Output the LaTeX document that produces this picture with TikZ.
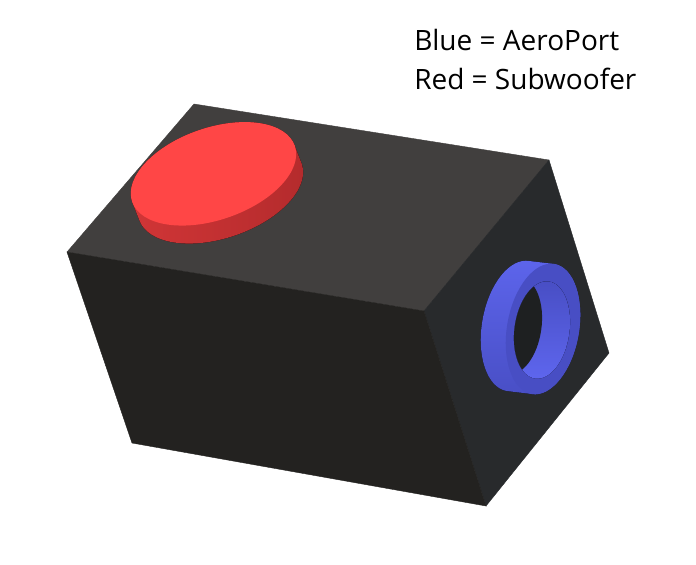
\documentclass[tikz,border=0pt]{standalone}
\usepackage{fontspec}
\setmainfont{Open Sans}
\definecolor{TopGrey}{RGB}{65,63,62}
\definecolor{FrontGrey}{RGB}{35,34,32}
\definecolor{SideGrey}{RGB}{40,42,44}
\definecolor{CapRed}{RGB}{255,70,70}
\definecolor{RimRed}{RGB}{166,38,40}
\definecolor{RingBlue}{RGB}{72,78,196}
\definecolor{WallBlue}{RGB}{94,102,238}
\tikzset{
    redface/.style={rotate around={19:(213,174)}},
    ringface/.style={rotate around={80:(543,329)}},
    holeface/.style={rotate around={82:(542,330)}},
    labeltext/.style={anchor=base west, inner sep=0pt, font=\fontsize{21}{26}\selectfont, text=black},
}
\begin{document}
\begin{tikzpicture}[x=0.75pt, y=-0.75pt]
    \useasboundingbox (0,0) rectangle (696,564);
    % box
    \filldraw[TopGrey, line width=0.3pt] (194,104) -- (549,160) -- (424,311) -- (67,252) -- cycle;
    \filldraw[SideGrey, line width=0.3pt] (549,160) -- (609,353) -- (486,506) -- (424,311) -- cycle;
    \filldraw[FrontGrey, line width=0.3pt] (67,252) -- (424,311) -- (486,506) -- (132,443) -- cycle;
    % subwoofer
    \begin{scope}
        \clip \foreach \s in {0,0.05,...,1.01} {
            [shift={(7*\s,18*\s)}] [redface] (213.5,174) ellipse [x radius=86, y radius=46]
        };
        \fill[left color=RimRed!50!CapRed, middle color=RimRed, right color=RimRed!85!CapRed] (120,110) rectangle (310,250);
    \end{scope}
    \fill[CapRed, redface] (213.5,174) ellipse [x radius=86, y radius=46];
    % aeroport
    \begin{scope}
        \clip \foreach \s in {0,0.05,...,1.01} {
            [shift={(-25*\s,-3*\s)}] [ringface] (543,329) ellipse [x radius=66, y radius=36]
        };
        \fill[top color=WallBlue, middle color=WallBlue!90!RingBlue, bottom color=RingBlue] (470,250) rectangle (590,400);
    \end{scope}
    \fill[RingBlue, ringface] (543,329) ellipse [x radius=66, y radius=36];
    \begin{scope}
        \clip[holeface] (542,330) ellipse [x radius=49, y radius=27.5];
        \fill[top color=RingBlue, bottom color=WallBlue] (510,280) rectangle (575,380);
        \fill[SideGrey!75!black, shift={(-28,-4)}, holeface] (542,330) ellipse [x radius=49, y radius=27.5];
    \end{scope}
    % labels
    \node[labeltext] (bluelabel) at (414,50) {Blue = AeroPort};
    \node[labeltext] (redlabel) at (414,89) {Red = Subwoofer};
\end{tikzpicture}
\end{document}
